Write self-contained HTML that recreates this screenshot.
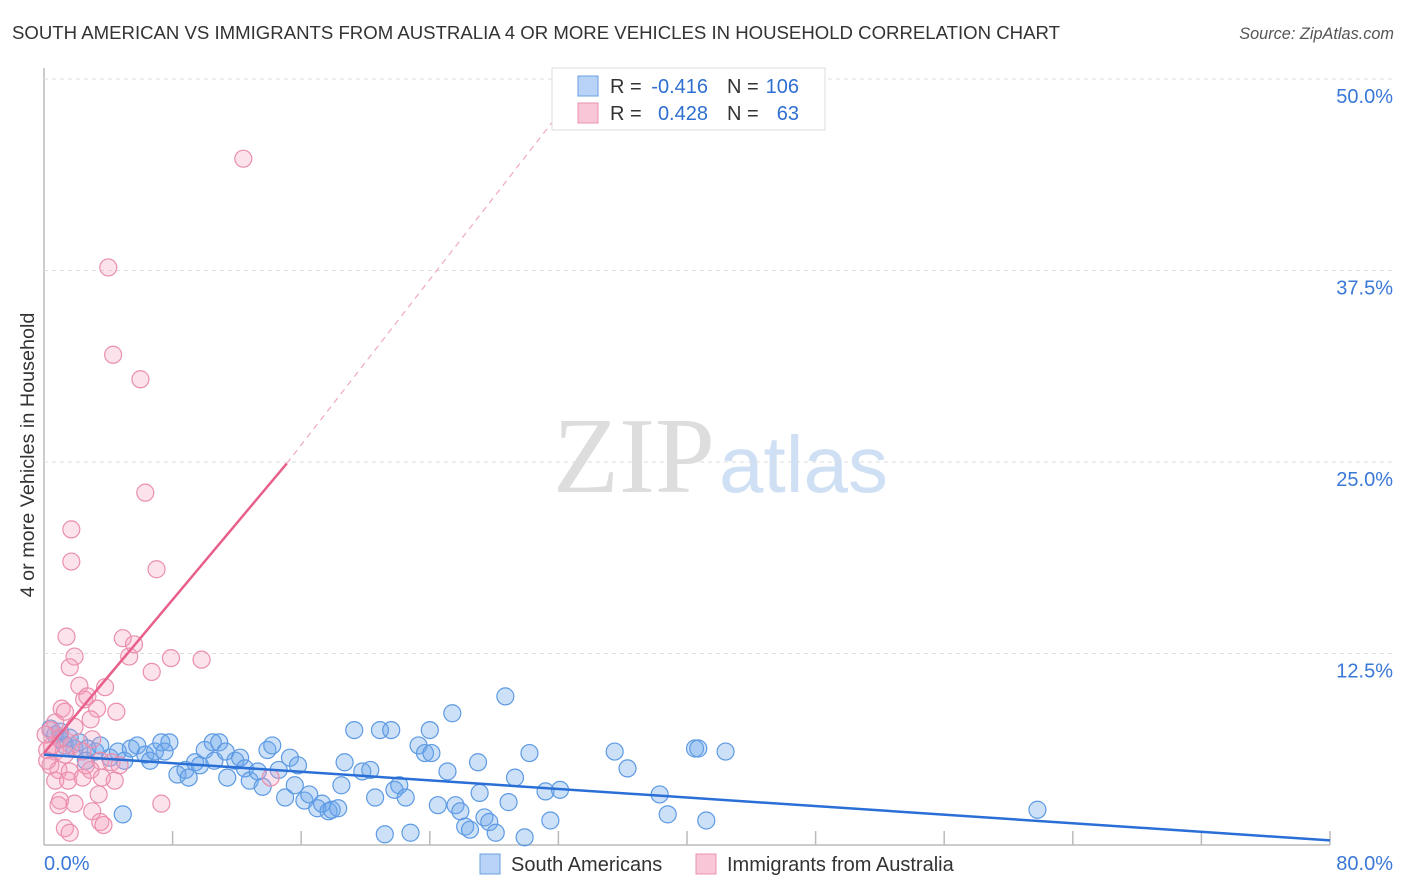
<!DOCTYPE html>
<html><head><meta charset="utf-8"><style>
body{margin:0;background:#fff;font-family:"Liberation Sans",sans-serif;}
#wrap{position:relative;width:1406px;height:892px;overflow:hidden;}
</style></head><body>
<div id="wrap">
<svg id="svg" width="1406" height="892" xmlns="http://www.w3.org/2000/svg">
<text x="12" y="39" font-size="18.6" fill="#333">SOUTH AMERICAN VS IMMIGRANTS FROM AUSTRALIA 4 OR MORE VEHICLES IN HOUSEHOLD CORRELATION CHART</text>
<text x="1394" y="39" font-size="16.3" fill="#555" font-style="italic" text-anchor="end">Source: ZipAtlas.com</text>
<text transform="translate(34,455) rotate(-90)" font-size="19.8" fill="#333" text-anchor="middle">4 or more Vehicles in Household</text>
<g>
<text x="553" y="492" font-family="Liberation Serif,serif" font-size="108" fill="#ddd">ZIP</text>
<text x="719" y="492" font-size="80" fill="#cfe0f5">atlas</text>
</g>
<g id="grid"></g><g id="marks"></g>
<g>
<rect x="552" y="68" width="273" height="62" fill="#fff" stroke="#ddd"/>
<rect x="578" y="76" width="20" height="20" fill="#b8d3f5" stroke="#6aa0e0"/>
<rect x="578" y="103" width="20" height="20" fill="#f8c6d6" stroke="#ea90ae"/>
<g font-size="20" fill="#333">
<text x="610" y="93">R =</text><text x="708" y="93" text-anchor="end" fill="#2f6fd0">-0.416</text>
<text x="727" y="93">N =</text><text x="799" y="93" text-anchor="end" fill="#2f6fd0">106</text>
<text x="610" y="120">R =</text><text x="708" y="120" text-anchor="end" fill="#2f6fd0">0.428</text>
<text x="727" y="120">N =</text><text x="799" y="120" text-anchor="end" fill="#2f6fd0">63</text>
</g>
</g>
<g>
<rect x="480" y="854" width="20" height="20" fill="#b8d3f5" stroke="#6aa0e0"/>
<text x="511" y="871" font-size="20" fill="#333">South Americans</text>
<rect x="696" y="854" width="20" height="20" fill="#f8c6d6" stroke="#ea90ae"/>
<text x="727" y="871" font-size="20" fill="#333">Immigrants from Australia</text>
</g>
</svg>
</div>
<script>
const yTicks=[12.5,25,37.5,50];
const yTickLabels=["12.5%","25.0%","37.5%","50.0%"];
const xTickLabels=["0.0%","80.0%"];
const blueX=[0.4,0.7,1.0,1.3,1.6,1.9,2.2,2.7,3.2,3.5,4.1,4.6,5.0,5.4,5.8,6.3,6.6,6.9,7.3,7.8,7.5,8.3,8.8,9.0,9.4,9.7,10.0,10.5,10.6,10.9,11.3,11.4,11.9,12.2,12.5,12.8,13.3,13.6,13.9,14.2,14.6,15.0,15.3,15.6,15.8,16.2,16.5,17.0,17.3,17.7,17.9,18.3,18.5,18.7,19.3,19.8,20.3,20.6,20.9,21.2,21.6,21.8,22.1,22.5,22.8,23.3,23.7,24.0,24.1,24.5,25.1,25.4,25.6,25.9,26.2,26.5,27.0,27.1,27.4,27.7,28.1,28.7,28.9,29.3,29.9,30.2,31.2,31.5,32.1,35.5,36.3,38.3,38.8,40.5,40.7,41.2,42.4,61.8,4.9,1.0,2.6];
const blueY=[7.6,7.2,6.9,6.5,7.0,6.3,6.7,6.3,6.1,6.5,5.7,6.1,5.5,6.3,6.5,5.9,5.5,6.1,6.7,6.7,6.1,4.6,4.9,4.4,5.4,5.2,6.2,6.7,5.5,6.7,6.1,4.4,5.5,5.7,5.0,4.2,4.8,3.8,6.2,6.5,4.9,3.1,5.7,3.9,5.2,2.9,3.3,2.4,2.7,2.2,2.3,2.4,3.9,5.4,7.5,4.8,4.9,3.1,7.5,0.7,7.5,3.6,3.9,3.1,0.8,6.5,6.0,7.5,6.0,2.6,4.8,8.6,2.6,2.2,1.2,1.0,5.4,3.4,1.8,1.5,0.8,9.7,2.8,4.4,0.5,6.0,3.5,1.6,3.6,6.1,5.0,3.3,2.0,6.3,6.3,1.6,6.1,2.3,2.0,7.4,5.5];
const pinkX=[12.4,4.0,4.3,6.0,6.3,1.7,1.7,7.0,1.4,4.9,5.6,1.9,5.3,7.9,9.8,1.6,6.7,2.2,3.8,2.5,2.7,1.1,3.3,4.5,1.3,2.9,0.7,1.9,0.4,1.0,1.7,3.0,0.2,0.7,1.3,2.4,3.5,4.2,4.7,0.4,0.9,1.6,2.9,4.4,0.7,1.5,2.4,3.6,1.0,1.9,7.3,3.4,0.9,3.0,3.5,1.3,1.6,3.7,0.2,0.5,0.1,2.6,14.1];
const pinkY=[44.8,37.7,32.0,30.4,23.0,20.6,18.5,18.0,13.6,13.5,13.1,12.3,12.3,12.2,12.1,11.6,11.3,10.4,10.3,9.5,9.7,8.9,8.9,8.7,8.7,8.2,8.0,7.7,7.5,7.0,6.5,6.9,6.2,6.1,5.9,6.1,5.5,5.4,5.2,5.2,4.9,4.8,4.9,4.2,4.2,4.2,4.4,4.4,2.9,2.7,2.7,3.3,2.6,2.2,1.5,1.1,0.8,1.3,5.5,6.5,7.2,5.2,4.4];
const blueTrend=[[0,5.9],[80,0.3]];
const pinkTrend=[[0,6.0],[15.1,24.9]];
const pinkDash=[[15.1,24.9],[33.7,50]];

const NS="http://www.w3.org/2000/svg";
const X0=44,X1=1330,Y0=845,Ypx=15.32;
const sx=v=>X0+(X1-X0)*v/80;
const sy=v=>Y0-v*Ypx;
function mk(t,a,p){const e=document.createElementNS(NS,t);for(const k in a)e.setAttribute(k,a[k]);p.appendChild(e);return e;}
const grid=document.getElementById('grid'),marks=document.getElementById('marks');
let ax=mk('line',{x1:X0,y1:68,x2:X0,y2:Y0,stroke:'#bbb','stroke-width':1.5},grid);


let bx=mk('line',{x1:X0,y1:Y0,x2:X1,y2:Y0,stroke:'#bbb','stroke-width':1.5},grid);


for(let i=1;i<=10;i++){let t=mk('line',{x1:sx(i*8),y1:Y0,x2:sx(i*8),y2:Y0-14,stroke:'#bbb','stroke-width':1.5},grid);

}
yTicks.forEach((v,i)=>{let g=mk('line',{x1:X0,y1:sy(v),x2:1392,y2:sy(v),stroke:'#ddd','stroke-dasharray':'4,4'},grid);


let t=mk('text',{x:1393,y:sy(v)+24,'font-size':20,fill:'#3a78d8','text-anchor':'end'},grid);t.textContent=yTickLabels[i];

});
[[X0,'start'],[1393,'end']].forEach((p,i)=>{let t=mk('text',{x:p[0],y:870,'font-size':20,fill:'#3a78d8','text-anchor':p[1]},grid);t.textContent=xTickLabels[i];

});
blueX.forEach((v,i)=>{let c=mk('circle',{cx:sx(v),cy:sy(blueY[i]),r:8.5,fill:'rgba(110,165,235,0.35)',stroke:'#5d9ae3','stroke-width':1.2},marks);

});
pinkX.forEach((v,i)=>{let c=mk('circle',{cx:sx(v),cy:sy(pinkY[i]),r:8.5,fill:'rgba(245,160,190,0.3)',stroke:'#ea8fae','stroke-width':1.2},marks);

});
let l1=mk('line',{x1:sx(blueTrend[0][0]),y1:sy(blueTrend[0][1]),x2:sx(blueTrend[1][0]),y2:sy(blueTrend[1][1]),stroke:'#2a6fd6','stroke-width':2.5},marks);


let l2=mk('line',{x1:sx(pinkTrend[0][0]),y1:sy(pinkTrend[0][1]),x2:sx(pinkTrend[1][0]),y2:sy(pinkTrend[1][1]),stroke:'#e8608a','stroke-width':2.5},marks);


let l3=mk('line',{x1:sx(pinkDash[0][0]),y1:sy(pinkDash[0][1]),x2:sx(pinkDash[1][0]),y2:sy(pinkDash[1][1]),stroke:'#f0a8c0','stroke-width':1.2,'stroke-dasharray':'6,5'},marks);


</script>
</body></html>
